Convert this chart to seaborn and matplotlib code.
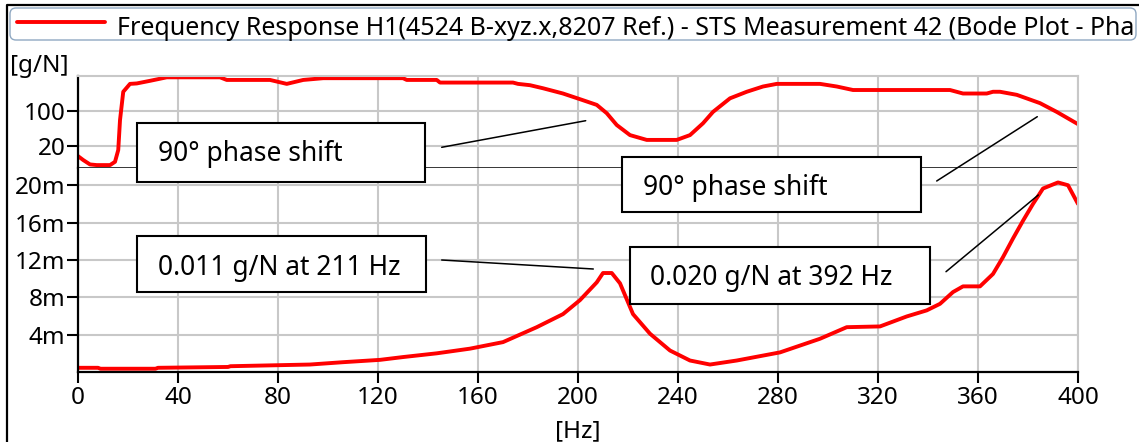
import matplotlib
matplotlib.use("Agg")
import matplotlib.pyplot as plt
import seaborn as sns
import pandas as pd
from matplotlib.patches import FancyBboxPatch, Rectangle
from matplotlib.lines import Line2D
from matplotlib.transforms import IdentityTransform

# ---------------- data ----------------
freq_phase = [0, 2.1, 4.8, 7.5, 12.8, 14.8, 16.1, 16.8, 18.1, 20.8, 23.5, 28.8,
              35.5, 56.8, 59.5, 76.8, 83.5, 90.1, 98.1, 130, 131.5, 143.5, 144.8,
              156.8, 174, 176, 180.8, 186, 194, 200.8, 207.5, 211.5, 215.5, 220.8,
              227.5, 239.5, 244.8, 250, 254, 260.8, 267.5, 274, 279.5, 296.8,
              303.5, 310, 348.8, 354, 363.5, 366, 368.8, 375.5, 384.8, 391.5, 400]
phase_deg = [-3, -12, -22, -23.5, -23.5, -16, 11, 79, 144, 162, 163, 169,
             177, 177, 171, 171, 162, 171, 175, 175, 171, 171, 165,
             165, 165, 162, 159, 152, 140, 127, 114, 95, 68, 45,
             34, 34, 45, 72, 98, 129, 144, 156, 162, 162,
             156, 148, 148, 140, 140, 144, 144, 137, 118, 98, 70]

freq_mag = [0, 8, 9, 31, 32, 60, 61, 92.8, 106, 120.8, 130, 143.5, 156.8, 170,
            183.5, 194, 200.8, 207.5, 210, 213.5, 216.8, 222, 228.8, 236.8, 244.8,
            252.8, 263.5, 280.8, 296.8, 307.5, 320.8, 331.5, 339.5, 344.8, 350,
            354, 360.8, 366, 370, 374, 378, 382, 386, 392, 396, 400]
mag_gN = [0.00045, 0.00045, 0.00035, 0.00035, 0.00045, 0.00054, 0.00062, 0.0008,
          0.00105, 0.0013, 0.0016, 0.0020, 0.0025, 0.0032, 0.0048, 0.0062, 0.0077,
          0.0096, 0.0106, 0.0106, 0.0095, 0.0062, 0.0041, 0.0023, 0.00123, 0.0008,
          0.00123, 0.0021, 0.00356, 0.0048, 0.00488, 0.00595, 0.0066, 0.0073,
          0.00856, 0.00917, 0.00917, 0.0105, 0.0123, 0.0143, 0.0162, 0.0180,
          0.01965, 0.0203, 0.0200, 0.0180]

x_ticks = [0, 40, 80, 120, 160, 200, 240, 280, 320, 360, 400]
phase_ticks = [20, 100]
phase_tick_labels = ["20", "100"]
mag_ticks = [0.004, 0.008, 0.012, 0.016, 0.020]
mag_tick_labels = ["4m", "8m", "12m", "16m", "20m"]

legend_label = ("Frequency Response H1(4524 B-xyz.x,8207 Ref.) - STS Measurement 42 "
                "(Bode Plot - Pha")
y_unit = "[g/N]"
x_unit = "[Hz]"
annot_phase = "90° phase shift"
annot_peak1 = "0.011 g/N at 211 Hz"
annot_peak2 = "0.020 g/N at 392 Hz"

# ---------------- style ----------------
sns.set_theme(style="white")
plt.rcParams["font.family"] = ["Noto Sans", "DejaVu Sans"]

W, H = 1139, 442
fig = plt.figure(figsize=(W / 100, H / 100), dpi=100)
fig.patch.set_facecolor("white")

RED = "#ff0000"
GRID = "#c8c8c8"
FS = 17.5

def fr(x0, y0, x1, y1):
    return [x0 / W, 1 - y1 / H, (x1 - x0) / W, (y1 - y0) / H]

ax_top = fig.add_axes(fr(78, 76, 1078, 167.5))
ax_bot = fig.add_axes(fr(78, 167.5, 1078, 372), sharex=ax_top)

df_phase = pd.DataFrame({"f": freq_phase, "v": phase_deg})
df_mag = pd.DataFrame({"f": freq_mag, "v": mag_gN})

sns.lineplot(data=df_phase, x="f", y="v", ax=ax_top, color=RED, linewidth=2.8,
             estimator=None, sort=False)
sns.lineplot(data=df_mag, x="f", y="v", ax=ax_bot, color=RED, linewidth=2.8,
             estimator=None, sort=False)

for ax in (ax_top, ax_bot):
    ax.set_xlim(0, 400)
    ax.set_xticks(x_ticks)
    ax.grid(True, color=GRID, linewidth=1.5)
    ax.set_axisbelow(True)
    ax.set_xlabel("")
    ax.set_ylabel("")
    ax.spines["left"].set_color("black")
    ax.spines["left"].set_linewidth(1.6)
    ax.spines["right"].set_color(GRID)
    ax.spines["right"].set_linewidth(1.5)
    ax.tick_params(axis="y", left=True, length=8, width=1.5, color="black",
                   labelsize=FS, pad=1, labelcolor="black")

ax_top.set_ylim(-29, 180)
ax_top.set_yticks(phase_ticks)
ax_top.set_yticklabels(phase_tick_labels)
ax_top.spines["top"].set_color(GRID)
ax_top.spines["top"].set_linewidth(1.5)
ax_top.spines["bottom"].set_color("black")
ax_top.spines["bottom"].set_linewidth(1.1)
ax_top.tick_params(axis="x", bottom=False, labelbottom=False)

ax_bot.set_ylim(0, 0.0219)
ax_bot.set_yticks(mag_ticks)
ax_bot.set_yticklabels(mag_tick_labels)
ax_bot.spines["top"].set_visible(False)
ax_bot.spines["bottom"].set_color("black")
ax_bot.spines["bottom"].set_linewidth(1.6)
ax_bot.tick_params(axis="x", bottom=True, length=8, width=1.5, color="black",
                   labelsize=FS, pad=2, labelcolor="black")
ax_bot.set_xlabel(x_unit, fontsize=FS, labelpad=7, color="black")

# ---------------- decorations in pixel space ----------------
ID = IdentityTransform()

def P(x, y):
    return (x, H - y)

# outer frame (left and top)
fig.add_artist(Line2D([7, 7, W], [0, H - 5, H - 5], transform=ID, color="black",
                      linewidth=1.6, zorder=1))

# legend box
leg = FancyBboxPatch(P(12, 38), 1122, 28, boxstyle="round,pad=2,rounding_size=6",
                     transform=ID, facecolor="white", edgecolor="#8fa8c2",
                     linewidth=1.0, zorder=3)
fig.add_artist(leg)
fig.add_artist(Line2D([17, 105], [H - 22, H - 22], transform=ID, color=RED,
                      linewidth=2.8, zorder=4))
fig.text(*P(117, 35), legend_label, transform=ID, fontsize=18, va="baseline",
         ha="left", color="black", zorder=4)

fig.text(*P(10, 72), y_unit, transform=ID, fontsize=FS, va="baseline", ha="left",
         color="black")

# annotation boxes
boxes = [
    (137, 123, 425, 182, 158, 161.5, annot_phase),
    (622, 157, 921, 212, 643, 195, annot_phase),
    (137, 236, 426, 292, 158, 275, annot_peak1),
    (630, 247, 930, 304, 650, 285.5, annot_peak2),
]
for x0, y0, x1, y1, tx, ty, txt in boxes:
    fig.add_artist(Rectangle(P(x0, y1), x1 - x0, y1 - y0, transform=ID,
                             facecolor="white", edgecolor="black", linewidth=1.5,
                             zorder=5))
    fig.text(*P(tx, ty), txt, transform=ID, fontsize=19, va="baseline", ha="left",
             color="black", zorder=6)

connectors = [
    ((441.7, 147.3), (585.7, 120.7)),
    ((936.7, 181.0), (1037.3, 116.7)),
    ((441.7, 260.0), (593.3, 269.0)),
    ((946.0, 271.7), (1038.3, 195.0)),
]
for (xa, ya), (xb, yb) in connectors:
    fig.add_artist(Line2D([xa, xb], [H - ya, H - yb], transform=ID, color="black",
                          linewidth=1.1, zorder=6))

fig.savefig("out.png", dpi=100)
